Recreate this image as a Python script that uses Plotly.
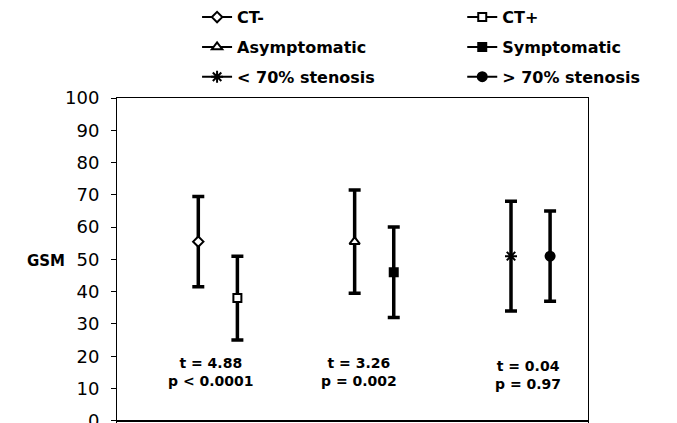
import plotly.graph_objects as go

categories = ["CT-", "CT+", "Asymptomatic", "Symptomatic", "&lt; 70% stenosis", "&gt; 70% stenosis"]
means = [55.5, 38, 55.5, 46, 51, 51]
sds = [14, 13, 16, 14, 17, 14]
stats_t = ["4.88", "3.26", "0.04"]
stats_p = ["p &lt; 0.0001", "p = 0.002", "p = 0.97"]
y_ticks = list(range(0, 101, 10))

symbols = ["diamond", "square", "triangle-up", "square", "asterisk-open", "circle"]
fills = ["white", "white", "white", "black", "black", "black"]
msizes = [8, 8, 9, 8, 10, 9]
legends = ["legend", "legend2", "legend", "legend2", "legend", "legend2"]

# page body has an 8px margin, so the figure is laid out in page coords minus 8
L, T, W, H = 109, 90, 471, 326
FIG_W, FIG_H = 677, 423

fig = go.Figure()
for i, name in enumerate(categories):
    xpos = (i // 2) * 4 + (i % 2) + 1
    fig.add_trace(go.Scatter(
        x=[xpos], y=[means[i]], name=name, mode="lines+markers",
        legend=legends[i], legendgroup=name,
        line=dict(color="black", width=2),
        marker=dict(symbol=symbols[i], color=fills[i], size=msizes[i],
                    line=dict(color="black", width=2)),
        error_y=dict(type="data", array=[sds[i]], visible=True,
                     color="black", thickness=3.5, width=6),
        showlegend=True,
    ))

ann_x = [1.33, 5.1, 9.44]
ann_y = [15.2, 15.2, 14.2]
for j in range(3):
    fig.add_annotation(x=ann_x[j], y=ann_y[j], xref="x", yref="y",
                       text=f"t = {stats_t[j]}<br>{stats_p[j]}", showarrow=False,
                       font=dict(family="DejaVu Sans", size=14, color="black", weight="bold"),
                       align="center")

fig.add_annotation(
    xref="paper", yref="paper", x=(17 - L) / W, y=(T + H - 253) / H,
    text="GSM", showarrow=False, xanchor="left", yanchor="middle",
    font=dict(family="DejaVu Sans", size=15, color="black", weight="bold"))

legend_common = dict(
    font=dict(family="DejaVu Sans", size=16, color="black", weight="bold"),
    bgcolor="rgba(0,0,0,0)", borderwidth=0, orientation="v",
    tracegroupgap=6, xanchor="left", yanchor="top",
)

fig.update_layout(
    width=FIG_W, height=FIG_H,
    margin=dict(l=L, r=FIG_W - L - W, t=T, b=FIG_H - T - H, autoexpand=False),
    paper_bgcolor="white", plot_bgcolor="white",
    font=dict(family="DejaVu Sans", color="black"),
    legend=dict(x=0.170, y=1.300, **legend_common),
    legend2=dict(x=0.733, y=1.300, **legend_common),
    xaxis=dict(range=[-1.08, 10.97], showticklabels=False, ticks="",
               showgrid=False, zeroline=False, showline=True,
               linecolor="black", linewidth=1, mirror=True),
    yaxis=dict(range=[-1, 100], tickvals=y_ticks, ticks="outside", ticklen=5,
               tickcolor="black", showgrid=False, zeroline=True,
               zerolinecolor="black", zerolinewidth=1.5, showline=True,
               linecolor="black", linewidth=1, mirror=True,
               tickfont=dict(family="DejaVu Sans", size=18, color="black"),
               ticklabelstandoff=8, ticklabeloverflow="allow"),
)

fig.write_html("out.html")
